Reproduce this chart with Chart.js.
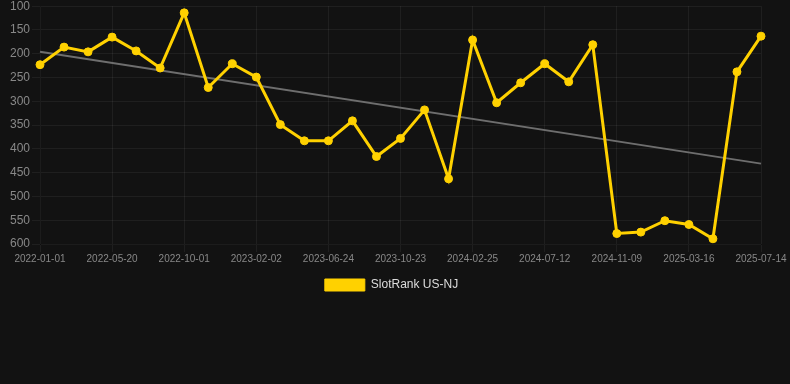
<!DOCTYPE html>
<html>
<head>
<meta charset="utf-8">
<script src="https://cdn.jsdelivr.net/npm/chart.js@4"></script>
<style>
  html, body { margin: 0; padding: 0; background: #121212; }
  #wrap { width: 790px; height: 301px; }
</style>
</head>
<body>
<div id="wrap"><canvas id="chart"></canvas></div>
<script>
// dates on the x axis (only every third one is shown)
const dates = [
  '2022-01-01', '2022-02-16', '2022-04-03', '2022-05-20', '2022-07-04', '2022-08-17',
  '2022-10-01', '2022-11-11', '2022-12-22', '2023-02-02', '2023-03-21', '2023-05-07',
  '2023-06-24', '2023-08-03', '2023-09-13', '2023-10-23', '2023-12-03', '2024-01-14',
  '2024-02-25', '2024-04-11', '2024-05-27', '2024-07-12', '2024-08-21', '2024-09-30',
  '2024-11-09', '2024-12-20', '2025-02-02', '2025-03-16', '2025-04-25', '2025-06-04',
  '2025-07-14'
];

// rank values (lower is better, axis reversed)
const rankNJ = [
  223, 186, 196, 165, 194, 230, 114, 271, 221, 249, 349,
  383, 383, 341, 416, 378, 318, 463, 171, 303, 261,
  221, 259, 181, 578, 575, 551, 559, 589, 238, 163
];

// trend line end points
const trendStart = 196;
const trendEnd = 431;

const yellow = '#FFD100';
const font = 'Liberation Sans, Arial';

new Chart(document.getElementById('chart'), {
  type: 'line',
  data: {
    labels: dates,
    datasets: [
      {
        label: 'SlotRank US-NJ',
        data: rankNJ,
        borderColor: yellow,
        backgroundColor: yellow,
        borderWidth: 3,
        pointRadius: 4,
        pointBorderWidth: 1,
        pointBackgroundColor: yellow,
        pointBorderColor: yellow,
        tension: 0
      },
      {
        label: 'trend',
        data: [
          { x: dates[0], y: trendStart },
          { x: dates[dates.length - 1], y: trendEnd }
        ],
        borderColor: '#6e6e6e',
        borderWidth: 2,
        pointRadius: 0,
        fill: false
      }
    ]
  },
  options: {
    responsive: true,
    maintainAspectRatio: false,
    animation: false,
    layout: { padding: { left: 0, right: 7 } },
    plugins: {
      legend: {
        position: 'bottom',
        labels: {
          color: '#dddddd',
          boxWidth: 40,
          boxHeight: 12,
          font: { family: font, size: 12 },
          filter: item => item.text !== 'trend',
          generateLabels: chart => {
            const items = Chart.defaults.plugins.legend.labels.generateLabels(chart);
            items.forEach(it => { it.lineWidth = 1; });
            return items;
          }
        }
      },
      tooltip: { enabled: false }
    },
    scales: {
      x: {
        afterFit: scale => {
          scale.paddingRight = 29;
          scale.height += 2;
        },
        grid: { color: 'rgba(255,255,255,0.06)' },
        ticks: {
          color: '#888888',
          padding: 0,
          font: { family: font, size: 10, lineHeight: 1.5 },
          maxRotation: 0,
          autoSkip: true,
          maxTicksLimit: 11
        }
      },
      y: {
        reverse: true,
        min: 100,
        max: 600,
        afterFit: scale => { scale.width = 40; },
        grid: { color: 'rgba(255,255,255,0.06)' },
        ticks: {
          stepSize: 50,
          padding: 2,
          color: '#888888',
          font: { family: font, size: 12, lineHeight: 0.7 }
        }
      }
    }
  }
});
</script>
</body>
</html>
